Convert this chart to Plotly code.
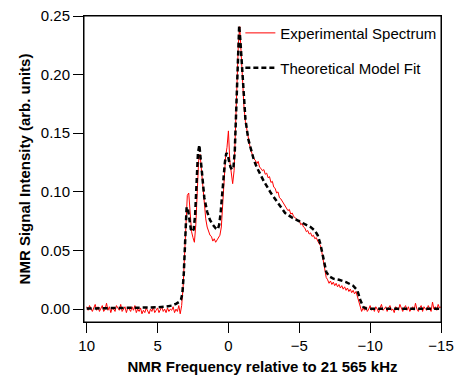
import plotly.graph_objects as go

# Experimental spectrum: intensities sampled every 0.1 kHz from +10 to -15
exp_start = 10.0
exp_step = -0.1
exp_vals = [
    0.002, -0.001, 0.003, 0.000, -0.002, 0.001, 0.004, -0.001, 0.002, -0.002,
    0.001, 0.003, -0.002, 0.000, 0.005, -0.001, 0.002, -0.003, 0.001, 0.000,
    -0.002, 0.003, 0.001, -0.001, 0.004, -0.002, 0.000, 0.002, -0.003, 0.001,
    0.000, -0.002, 0.002, -0.001, 0.003, -0.003, 0.000, -0.002, 0.001, -0.004,
    -0.001, -0.003, 0.001, -0.002, -0.004, 0.000, -0.002, 0.002, -0.003, -0.001,
    0.001, -0.003, -0.001, 0.002, -0.002, 0.000, -0.003, 0.001, -0.002, 0.000,
    -0.001, 0.002, -0.003, 0.000, -0.002, 0.003, -0.004, 0.003, 0.018, 0.048,
    0.080, 0.097, 0.099, 0.078, 0.066, 0.061, 0.057, 0.072, 0.104, 0.127,
    0.132, 0.118, 0.099, 0.086, 0.077, 0.070, 0.067, 0.063, 0.062, 0.058,
    0.060, 0.057, 0.059, 0.061, 0.063, 0.070, 0.090, 0.115, 0.130, 0.138,
    0.152, 0.126, 0.115, 0.107, 0.118, 0.152, 0.190, 0.226, 0.241, 0.214,
    0.190, 0.172, 0.160, 0.152, 0.146, 0.140, 0.135, 0.131, 0.128, 0.127,
    0.124, 0.126, 0.121, 0.120, 0.118, 0.119, 0.115, 0.116, 0.112, 0.113,
    0.108, 0.109, 0.104, 0.103, 0.099, 0.100, 0.095, 0.094, 0.092, 0.090,
    0.088, 0.087, 0.084, 0.085, 0.081, 0.082, 0.079, 0.078, 0.077, 0.075,
    0.076, 0.072, 0.073, 0.070, 0.069, 0.066, 0.067, 0.064, 0.065, 0.062,
    0.063, 0.060, 0.061, 0.058, 0.056, 0.054, 0.048, 0.040, 0.032, 0.027,
    0.025, 0.022, 0.024, 0.021, 0.023, 0.020, 0.022, 0.019, 0.021, 0.018,
    0.020, 0.017, 0.019, 0.016, 0.018, 0.015, 0.017, 0.014, 0.016, 0.013,
    0.015, 0.011, 0.006, 0.001, -0.002, 0.001, -0.001, 0.002, -0.002, 0.000,
    0.003, -0.001, 0.001, -0.002, 0.002, 0.000, -0.003, 0.001, 0.004, -0.001,
    0.000, 0.002, -0.002, 0.001, 0.003, -0.001, 0.000, -0.003, 0.002, 0.001,
    -0.001, 0.004, 0.000, -0.002, 0.001, 0.003, -0.001, 0.002, -0.002, 0.000,
    0.002, -0.001, 0.005, 0.000, -0.002, 0.001, 0.003, -0.002, 0.002, 0.000,
    -0.001, 0.003, 0.001, -0.002, 0.006, 0.000, 0.002, -0.001, 0.004, 0.001,
    0.002,
]

# Theoretical model fit
fit_freq = [
    10, 8, 6, 5, 4.5, 4.0, 3.7, 3.5, 3.35, 3.25, 3.15, 3.05, 2.95, 2.85, 2.75,
    2.65, 2.55, 2.45, 2.35, 2.25, 2.15, 2.05, 1.95, 1.85, 1.7, 1.5, 1.3, 1.1,
    0.9, 0.75, 0.65, 0.55, 0.45, 0.35, 0.25, 0.15, 0.05, -0.05, -0.15, -0.25,
    -0.35, -0.45, -0.55, -0.65, -0.76, -0.85, -1.0, -1.2, -1.4, -1.6, -1.8,
    -2.0, -2.5, -3.0, -3.5, -4.0, -4.5, -5.0, -5.5, -5.8, -6.1, -6.3, -6.5,
    -6.7, -6.9, -7.1, -7.4, -7.8, -8.3, -8.8, -9.1, -9.3, -9.5, -9.7, -10,
    -12, -15,
]
fit_vals = [
    0.0005, 0.0007, 0.001, 0.0015, 0.002, 0.003, 0.0045, 0.006, 0.008, 0.013,
    0.030, 0.060, 0.087, 0.085, 0.074, 0.068, 0.066, 0.068, 0.080, 0.108,
    0.133, 0.140, 0.128, 0.112, 0.095, 0.083, 0.076, 0.072, 0.069, 0.068,
    0.072, 0.082, 0.097, 0.113, 0.125, 0.133, 0.132, 0.126, 0.121, 0.119,
    0.120, 0.135, 0.165, 0.205, 0.242, 0.228, 0.195, 0.162, 0.145, 0.135,
    0.127, 0.121, 0.109, 0.099, 0.090, 0.082, 0.078, 0.075, 0.072, 0.070,
    0.067, 0.063, 0.055, 0.042, 0.032, 0.028, 0.026, 0.025, 0.023, 0.020,
    0.016, 0.008, 0.002, 0.0005, 0.0003, 0.0002, 0.0002,
]

x_ticks = [10, 5, 0, -5, -10, -15]
y_ticks = [0.00, 0.05, 0.10, 0.15, 0.20, 0.25]

FONT = "Liberation Sans, Arial, sans-serif"

fig = go.Figure()
fig.add_trace(go.Scatter(
    y=exp_vals, x0=exp_start, dx=exp_step, mode="lines",
    line=dict(color="#ff0000", width=1),
    name="Experimental Spectrum", legend="legend",
))
fig.add_trace(go.Scatter(
    x=fit_freq, y=fit_vals, mode="lines",
    line=dict(color="black", width=2.5, dash="5px,3px"),
    name="Theoretical Model Fit", legend="legend2",
))

axis_common = dict(
    showline=True, linecolor="black", linewidth=1, mirror=True,
    ticks="outside", ticklen=10, tickwidth=1, tickcolor="black",
    showgrid=False, zeroline=False, automargin=False,
    ticklabeloverflow="allow",
    tickfont=dict(family=FONT, size=15, color="black"),
)

fig.update_layout(
    width=455, height=375,
    margin=dict(l=84, r=14, t=16, b=53),
    paper_bgcolor="white", plot_bgcolor="white",
    font=dict(family=FONT, size=15, color="black"),
    xaxis=dict(
        range=[10.19, -15], tickvals=x_ticks,
        title=dict(text="<b>NMR Frequency relative to 21 565 kHz</b>",
                   font=dict(family=FONT, size=15), standoff=8),
        **axis_common,
    ),
    yaxis=dict(
        range=[-0.011, 0.25], tickvals=y_ticks, tickformat=".2f",
        title=dict(text="<b>NMR Signal Intensity (arb. units)</b>",
                   font=dict(family=FONT, size=15), standoff=6),
        **axis_common,
    ),
    shapes=[dict(type="rect", xref="paper", yref="paper", x0=0, x1=1,
                 y0=0, y1=1, line=dict(color="black", width=1),
                 fillcolor="rgba(0,0,0,0)", layer="above")],
    legend=dict(x=0.438, y=0.944, xanchor="left", yanchor="middle",
                bgcolor="rgba(0,0,0,0)", font=dict(family=FONT, size=15)),
    legend2=dict(x=0.438, y=0.830, xanchor="left", yanchor="middle",
                 bgcolor="rgba(0,0,0,0)", font=dict(family=FONT, size=15)),
    showlegend=True,
)

# remove the default 8px page margin so the 455x375 figure fills the window
fig.write_html(
    "out.html",
    config={"displayModeBar": False},
    post_script="document.body.style.margin='0';document.body.style.overflow='hidden';",
)
